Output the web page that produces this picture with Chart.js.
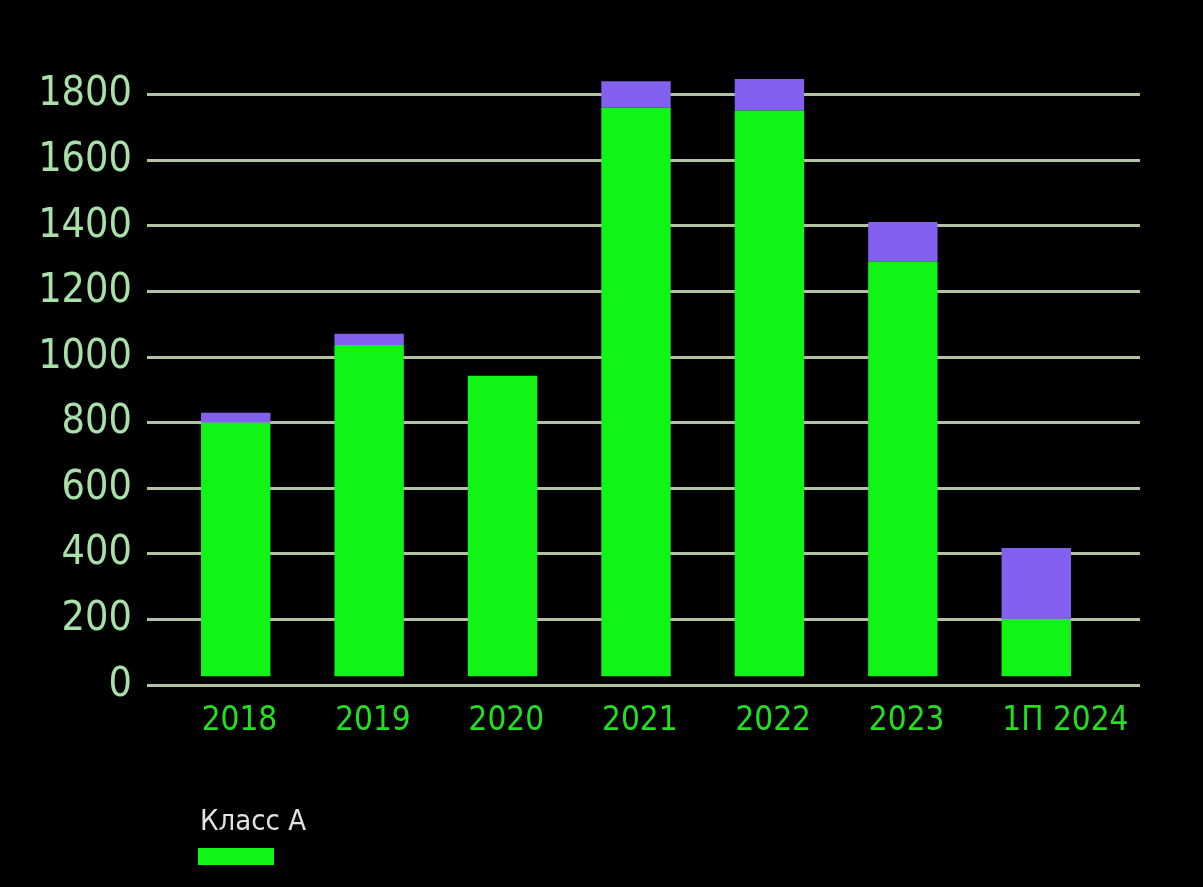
<!DOCTYPE html>
<html>
<head>
<meta charset="utf-8">
<script src="https://cdn.jsdelivr.net/npm/chart.js@4.4.1/dist/chart.umd.min.js"></script>
<style>
  html, body { margin: 0; padding: 0; background: #000; }
  #wrap { position: relative; width: 1203px; height: 887px; }
  #legend { position: absolute; left: 198px; top: 800px; font-family: 'DejaVu Sans', sans-serif; font-stretch: condensed; }
  #legend .txt { color: #e2e2e2; font-size: 29px; line-height: 40px; margin-left: 2px; }
  #legend .box { width: 76px; height: 17px; margin-top: 8px; }
</style>
</head>
<body>
<div id="wrap">
  <canvas id="chart" width="1203" height="887"></canvas>
  <div id="legend"></div>
</div>
<script>
// data
const categories = ['2018', '2019', '2020', '2021', '2022', '2023', '1П 2024'];
const classA = [800, 1037, 943, 1760, 1752, 1291, 200];
const otherClasses = [30, 34, 0, 81, 96, 121, 218];
const yTicks = [0, 200, 400, 600, 800, 1000, 1200, 1400, 1600, 1800];

const FONT = "'DejaVu Sans', sans-serif";
const GREEN = '#10f516';
const PURPLE = '#8360f0';
const GRID = '#b4c2a4';

const yScale = {
    min: 0,
    max: 1860,
    border: { display: false },
    grid: { color: GRID, lineWidth: 3, tickLength: 22, tickColor: GRID },
    afterBuildTicks: axis => { axis.ticks = yTicks.map(v => ({ value: v })); }
};

const ctx = document.getElementById('chart').getContext('2d');
const chart = new Chart(ctx, {
    type: 'bar',
    data: {
        labels: categories,
        datasets: [
            { label: 'Класс А', data: classA, backgroundColor: GREEN, base: 27 },
            { label: '', data: otherClasses, backgroundColor: PURPLE }
        ]
    },
    options: {
        responsive: false,
        animation: false,
        devicePixelRatio: 1,
        layout: { padding: { top: 75, left: 0, right: 0, bottom: 0 } },
        datasets: { bar: { categoryPercentage: 1, barPercentage: 0.52, borderWidth: 0 } },
        plugins: { legend: { display: false }, tooltip: { enabled: false } },
        scales: {
            x: {
                stacked: true,
                grid: { display: false },
                border: { display: false },
                ticks: {
                    color: '#20e020',
                    font: { family: FONT, size: 33, weight: 'condensed' },
                    padding: 9,
                    maxRotation: 0,
                    autoSkip: false,
                    align: 'start',
                    labelOffset: -34
                },
                afterFit: s => { s.height = 202; }
            },
            y: Object.assign({}, yScale, {
                stacked: true,
                position: 'left',
                ticks: {
                    color: '#a9e0a9',
                    font: { family: FONT, size: 41, weight: 'condensed' },
                    padding: 15,
                    callback: v => String(v)
                },
                afterFit: s => { s.width = 169; }
            }),
            y2: Object.assign({}, yScale, {
                position: 'right',
                grid: { color: GRID, lineWidth: 3, tickLength: 37, tickColor: GRID, drawOnChartArea: false },
                ticks: { display: false },
                afterFit: s => { s.width = 100; }
            })
        }
    }
});

// legend: label above the colour bar
const first = chart.data.datasets[0];
document.getElementById('legend').innerHTML =
    '<div class="txt">' + first.label + '</div>' +
    '<div class="box" style="background:' + first.backgroundColor + '"></div>';
</script>
</body>
</html>
